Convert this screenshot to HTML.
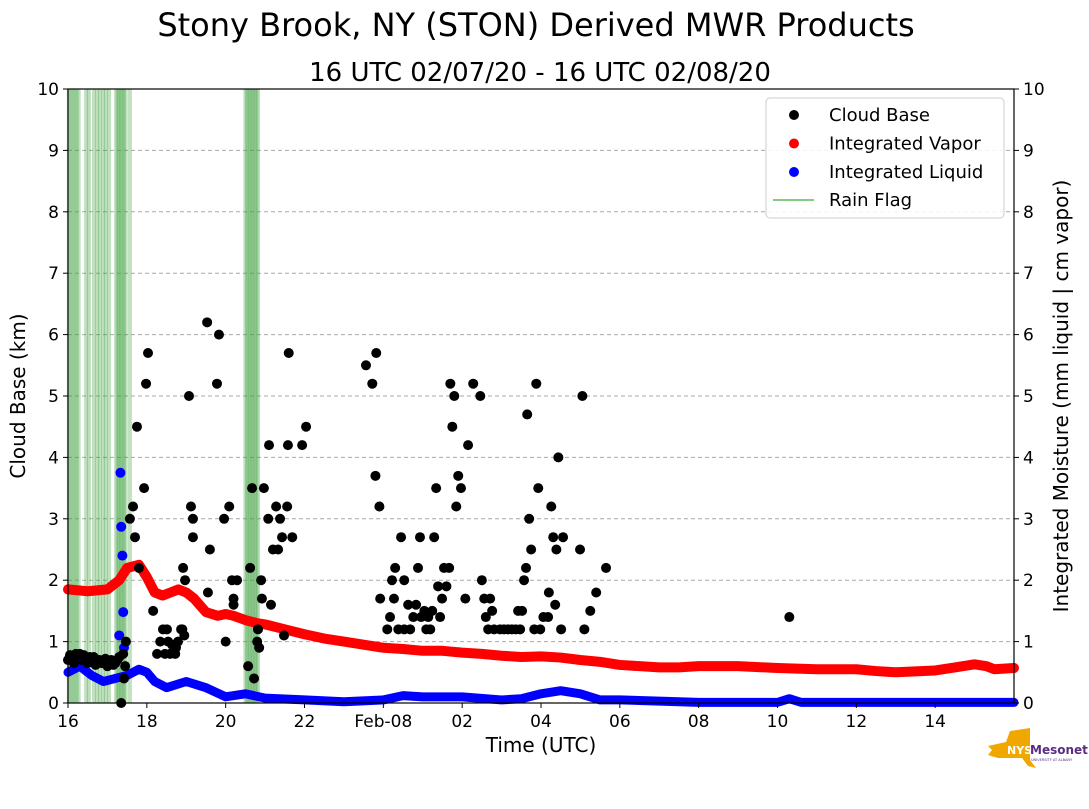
<!DOCTYPE html>
<html><head><meta charset="utf-8"><style>
body{margin:0;background:#fff;width:1089px;height:804px;overflow:hidden;font-family:"Liberation Sans","DejaVu Sans",sans-serif}
</style></head><body>
<svg id="chart" width="1089" height="804" xmlns="http://www.w3.org/2000/svg" font-family="DejaVu Sans, Liberation Sans, sans-serif"></svg>
<script>
const xTickLabels=["16","18","20","22","Feb-08","02","04","06","08","10","12","14"];
const yTickLabels=[0,1,2,3,4,5,6,7,8,9,10];
const rainHours=[0.02,0.07,0.12,0.17,0.22,0.27,0.46,0.53,0.66,0.74,0.81,0.89,0.96,1.04,1.22,1.26,1.3,1.34,1.38,1.42,1.46,1.57,4.5,4.54,4.58,4.62,4.66,4.7,4.74,4.78,4.82];
const vaporHours=[0,0.5,1,1.3,1.5,1.8,2.0,2.2,2.4,2.6,2.8,3.0,3.2,3.5,3.8,4.0,4.2,4.5,4.8,5,5.5,6,6.5,7,7.5,8,8.5,9,9.5,10,10.5,11,11.5,12,12.5,13,13.5,14,14.5,15,15.5,16,17,18,19,20,20.5,21,22,22.5,23,23.3,23.5,24];
const vaporValues=[1.85,1.82,1.85,2.0,2.2,2.25,2.05,1.8,1.75,1.8,1.85,1.8,1.7,1.48,1.42,1.45,1.42,1.35,1.3,1.28,1.2,1.12,1.05,1.0,0.95,0.9,0.88,0.85,0.85,0.82,0.8,0.77,0.75,0.76,0.74,0.7,0.67,0.62,0.6,0.58,0.58,0.6,0.6,0.57,0.55,0.55,0.52,0.5,0.53,0.58,0.63,0.6,0.55,0.57];
const liquidHours=[0,0.3,0.6,0.9,1.2,1.5,1.8,2,2.2,2.5,3,3.5,4,4.5,5,6,7,8,8.5,9,10,11,11.5,12,12.5,13,13.5,14,15,16,18,18.3,18.6,20,22,24];
const liquidValues=[0.5,0.6,0.45,0.35,0.4,0.45,0.55,0.5,0.35,0.25,0.35,0.25,0.1,0.15,0.08,0.05,0.02,0.05,0.12,0.1,0.1,0.05,0.07,0.15,0.2,0.15,0.05,0.05,0.03,0.01,0.01,0.07,0.01,0.01,0.01,0.01];
const liquidSpikeHours=[1.3,1.33,1.35,1.38,1.4,1.42];
const liquidSpikeValues=[1.1,3.75,2.87,2.4,1.48,0.9];
const cloudHours=[0,0.05,0.1,0.15,0.2,0.25,0.3,0.35,0.4,0.45,0.5,0.55,0.6,0.65,0.7,0.75,0.8,0.85,0.9,0.95,1.0,1.05,1.1,1.15,1.2,1.25,1.3,1.4,1.45,1.35,1.42,1.47,1.57,1.65,1.7,1.75,1.8,1.93,1.98,2.03,2.16,2.26,2.34,2.41,2.46,2.51,2.54,2.59,2.64,2.72,2.74,2.79,2.87,2.9,2.92,2.95,2.97,3.07,3.12,3.17,3.17,3.53,3.55,3.6,3.78,3.83,3.96,4.0,4.09,4.16,4.2,4.2,4.29,4.57,4.62,4.67,4.72,4.8,4.82,4.85,4.9,4.92,4.97,5.08,5.1,5.15,5.2,5.28,5.33,5.38,5.43,5.48,5.56,5.58,5.6,5.69,5.94,6.04,7.56,7.72,7.8,7.82,7.9,7.92,8.1,8.17,8.22,8.27,8.3,8.38,8.45,8.53,8.53,8.63,8.68,8.76,8.83,8.88,8.93,8.96,9.04,9.09,9.14,9.19,9.24,9.29,9.34,9.39,9.44,9.49,9.54,9.6,9.67,9.7,9.75,9.8,9.85,9.9,9.97,10.08,10.15,10.28,10.46,10.5,10.56,10.6,10.66,10.71,10.76,10.81,10.96,11.06,11.16,11.26,11.36,11.42,11.47,11.52,11.57,11.62,11.65,11.7,11.75,11.83,11.88,11.93,11.98,12.06,12.18,12.2,12.26,12.31,12.36,12.39,12.44,12.51,12.56,12.99,13.05,13.1,13.25,13.4,13.65,18.3];
const cloudValues=[0.7,0.78,0.75,0.65,0.8,0.72,0.8,0.7,0.78,0.7,0.65,0.75,0.7,0.75,0.62,0.7,0.7,0.65,0.65,0.72,0.6,0.68,0.7,0.62,0.65,0.7,0.75,0.8,0.6,0,0.4,1.0,3.0,3.2,2.7,4.5,2.2,3.5,5.2,5.7,1.5,0.8,1.0,1.2,0.8,1.2,1.0,0.8,0.95,0.8,0.9,1.0,1.2,1.2,2.2,1.1,2.0,5.0,3.2,3.0,2.7,6.2,1.8,2.5,5.2,6.0,3.0,1.0,3.2,2.0,1.7,1.6,2.0,0.6,2.2,3.5,0.4,1.0,1.2,0.9,2.0,1.7,3.5,3.0,4.2,1.6,2.5,3.2,2.5,3.0,2.7,1.1,3.2,4.2,5.7,2.7,4.2,4.5,5.5,5.2,3.7,5.7,3.2,1.7,1.2,1.4,2.0,1.7,2.2,1.2,2.7,2.0,1.2,1.6,1.2,1.4,1.6,2.2,2.7,1.4,1.5,1.2,1.4,1.2,1.5,2.7,3.5,1.9,1.4,1.7,2.2,1.9,2.2,5.2,4.5,5.0,3.2,3.7,3.5,1.7,4.2,5.2,5.0,2.0,1.7,1.4,1.2,1.7,1.5,1.2,1.2,1.2,1.2,1.2,1.2,1.5,1.2,1.5,2.0,2.2,4.7,3.0,2.5,1.2,5.2,3.5,1.2,1.4,1.4,1.8,3.2,2.7,1.6,2.5,4.0,1.2,2.7,2.5,5.0,1.2,1.5,1.8,2.2,1.4];

const svg=document.getElementById('chart');
const NS='http://www.w3.org/2000/svg';
const L=68,R=1014,T=89,B=703;
const X=h=>L+h*(R-L)/24;
const Y=v=>B-v*(B-T)/10;
function mk(tag,attrs,parent){const e=document.createElementNS(NS,tag);for(const k in attrs)e.setAttribute(k,attrs[k]);(parent||svg).appendChild(e);return e;}
function txt(s,attrs){const e=mk('text',attrs);e.textContent=s;return e;}

let t=txt('Stony Brook, NY (STON) Derived MWR Products',{x:536,y:36,'font-size':32,'text-anchor':'middle',fill:'#000'});


t=txt('16 UTC 02/07/20 - 16 UTC 02/08/20',{x:540,y:81,'font-size':26,'text-anchor':'middle',fill:'#000'});



yTickLabels.forEach(v=>{if(v>0&&v<10){const g=mk('line',{x1:L,x2:R,y1:Y(v),y2:Y(v),stroke:'#aaa','stroke-dasharray':'4,3','stroke-width':1});

}});

rainHours.forEach(h=>{const r=mk('line',{x1:X(h),x2:X(h),y1:T,y2:B,stroke:'rgba(60,160,60,0.32)','stroke-width':4});

});

const vp=mk('polyline',{points:vaporHours.map((h,i)=>X(h)+','+Y(vaporValues[i])).join(' '),fill:'none',stroke:'#f00','stroke-width':10,'stroke-linecap':'round','stroke-linejoin':'round'});


const lp=mk('polyline',{points:liquidHours.map((h,i)=>X(h)+','+Y(liquidValues[i])).join(' '),fill:'none',stroke:'#00f','stroke-width':9,'stroke-linecap':'round','stroke-linejoin':'round'});


liquidSpikeHours.forEach((h,i)=>{const c=mk('circle',{cx:X(h),cy:Y(liquidSpikeValues[i]),r:5,fill:'#00f'});

});
cloudHours.forEach((h,i)=>{const c=mk('circle',{cx:X(h),cy:Y(cloudValues[i]),r:5,fill:'#000'});

});

const fr=mk('rect',{x:L,y:T,width:R-L,height:B-T,fill:'none',stroke:'#000','stroke-width':1.2});



yTickLabels.forEach(v=>{
  mk('line',{x1:L-5,x2:L,y1:Y(v),y2:Y(v),stroke:'#000'});
  mk('line',{x1:R,x2:R+5,y1:Y(v),y2:Y(v),stroke:'#000'});
  let a=txt(String(v),{x:L-9,y:Y(v)+6,'font-size':17,'text-anchor':'end'});
  
  
  let b=txt(String(v),{x:R+9,y:Y(v)+6,'font-size':17,'text-anchor':'start'});
  
  
});
xTickLabels.forEach((s,i)=>{const x=X(i*2);
  mk('line',{x1:x,x2:x,y1:B,y2:B+5,stroke:'#000'});
  const a=txt(s,{x:x,y:B+24,'font-size':17,'text-anchor':'middle'});
  
  
});
t=txt('Time (UTC)',{x:541,y:752,'font-size':20,'text-anchor':'middle'});


t=txt('Cloud Base (km)',{x:0,y:0,'font-size':20,'text-anchor':'middle',transform:'translate(25,396) rotate(-90)'});


t=txt('Integrated Moisture (mm liquid | cm vapor)',{x:0,y:0,'font-size':20,'text-anchor':'middle',transform:'translate(1068,396) rotate(-90)'});



const lg=mk('rect',{x:766,y:98,width:238,height:120,rx:4,fill:'#fff',stroke:'#ccc','fill-opacity':0.85});


[['Cloud Base','#000'],['Integrated Vapor','#f00'],['Integrated Liquid','#00f']].forEach((e,i)=>{
  const y=115+i*28.5;
  mk('circle',{cx:794,cy:y,r:5,fill:e[1]});
  const a=txt(e[0],{x:829,y:y+6,'font-size':18});
  
  
});
mk('line',{x1:773,x2:814,y1:200,y2:200,stroke:'#5cb85c','stroke-width':1.5});
t=txt('Rain Flag',{x:829,y:206,'font-size':18});



const g=mk('g',{});


mk('path',{d:'M988 746 L1006 742 L1010 731 L1030 728 L1030 760 L1036 768 L1028 766 L1022 758 L998 758 L988 755 L992 750 Z',fill:'#f0a800'},g);
const n=mk('text',{x:1007,y:754,'font-size':11,'font-weight':'bold',fill:'#fff'},g);n.textContent='NYS';
const m=mk('text',{x:1030,y:754,'font-size':12,'font-weight':'bold',fill:'#5a2d82'},g);m.textContent='Mesonet';
const u=mk('text',{x:1031,y:761,'font-size':3.5,fill:'#5a2d82'},g);u.textContent='UNIVERSITY AT ALBANY';
</script>
</body></html>
